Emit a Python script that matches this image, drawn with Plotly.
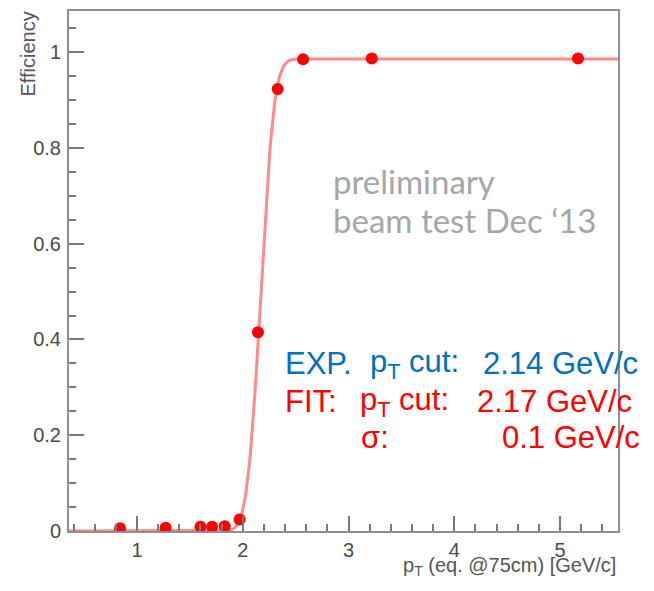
import math
import plotly.graph_objects as go

# ---- data ----
pt_values = [0.84, 1.27, 1.60, 1.71, 1.83, 1.97, 2.144, 2.33, 2.57, 3.22, 5.17]
efficiency = [0.006, 0.007, 0.009, 0.009, 0.010, 0.024, 0.415, 0.923, 0.985, 0.987, 0.987]

# fit parameters (error-function turn-on)
fit_mu = 2.17
fit_sigma = 0.1
fit_plateau = 0.986

x_range = [0.357, 5.548]
y_range = [0.0, 1.086]

n_fit = 600
fit_x = [x_range[0] + (x_range[1] - x_range[0]) * i / (n_fit - 1) for i in range(n_fit)]
fit_y = [fit_plateau * 0.5 * (1 + math.erf((x - fit_mu) / (math.sqrt(2) * fit_sigma))) for x in fit_x]

# page has an 8px body margin: the figure starts at (8, 8)
OFF = 8
W, H = 654 - OFF, 591 - OFF
plot_left, plot_right, plot_top, plot_bottom = 69, 618, 11, 531.5  # page pixels
L = plot_left - OFF
T = plot_top - OFF
R = W - (plot_right - OFF)
B = H - (plot_bottom - OFF)
pw, ph = plot_right - plot_left, plot_bottom - plot_top


def px(xp):
    return (xp - plot_left) / pw


def py(yp):
    return (plot_bottom - yp) / ph


fig = go.Figure()
fig.add_trace(go.Scatter(x=fit_x, y=fit_y, mode="lines",
                         line=dict(color="rgba(255,60,60,0.6)", width=3),
                         hoverinfo="skip", showlegend=False))
fig.add_trace(go.Scatter(x=pt_values, y=efficiency, mode="markers",
                         marker=dict(color="#ff0000", size=12),
                         showlegend=False))

axis_common = dict(showgrid=False, zeroline=False, showline=True, mirror=True,
                   linecolor="#8f8f8f", linewidth=2, ticks="inside",
                   tickcolor="#7a7a7a", tickwidth=2, ticklen=15,
                   tickfont=dict(family="Liberation Sans, Arial", size=20, color="#4a4a4a"))

fig.update_xaxes(range=x_range, tick0=0, dtick=1, **axis_common,
                 minor=dict(dtick=0.2, ticks="inside", ticklen=7, tickcolor="#7a7a7a", tickwidth=1.5))
fig.update_yaxes(range=y_range, tick0=0, dtick=0.2, **axis_common, ticklabelstandoff=2,
                 minor=dict(dtick=0.05, ticks="inside", ticklen=7, tickcolor="#7a7a7a", tickwidth=1.5))

ann = []
ann.append(dict(text="Efficiency", x=px(28), y=py(10), xref="paper", yref="paper",
                textangle=-90, xanchor="center", yanchor="top", showarrow=False,
                font=dict(family="Liberation Sans, Arial", size=20, color="#555555")))
ann.append(dict(text="p<sub>T</sub> (eq. @75cm) [GeV/c]", x=px(618), y=py(567), xref="paper", yref="paper",
                xanchor="right", yanchor="middle", showarrow=False,
                font=dict(family="Liberation Sans, Arial", size=20, color="#555555")))
gray = "#a6a6a6"
ann.append(dict(text="preliminary", x=px(331), y=py(181), xref="paper", yref="paper",
                xanchor="left", yanchor="middle", showarrow=False,
                font=dict(family="Lato", size=33, color=gray)))
ann.append(dict(text="beam test Dec ‘13", x=px(331), y=py(220), xref="paper", yref="paper",
                xanchor="left", yanchor="middle", showarrow=False,
                font=dict(family="Lato", size=33, color=gray)))
blue = "#0070c0"
red = "#ff0000"
tf = "Liberation Sans, Arial"
fs = 31
ann.append(dict(text="EXP.", x=px(283), y=py(364), xref="paper", yref="paper",
                xanchor="left", yanchor="middle", showarrow=False, font=dict(family=tf, size=fs, color=blue)))
ann.append(dict(text="p<sub>T</sub> cut:", x=px(368), y=py(364), xref="paper", yref="paper",
                xanchor="left", yanchor="middle", showarrow=False, font=dict(family=tf, size=fs, color=blue)))
ann.append(dict(text="2.14 GeV/c", x=px(640), y=py(364), xref="paper", yref="paper",
                xanchor="right", yanchor="middle", showarrow=False, font=dict(family=tf, size=fs, color=blue)))
ann.append(dict(text="FIT:", x=px(283), y=py(402), xref="paper", yref="paper",
                xanchor="left", yanchor="middle", showarrow=False, font=dict(family=tf, size=fs, color=red)))
ann.append(dict(text="p<sub>T</sub> cut:", x=px(358), y=py(402), xref="paper", yref="paper",
                xanchor="left", yanchor="middle", showarrow=False, font=dict(family=tf, size=fs, color=red)))
ann.append(dict(text="2.17 GeV/c", x=px(634), y=py(402), xref="paper", yref="paper",
                xanchor="right", yanchor="middle", showarrow=False, font=dict(family=tf, size=fs, color=red)))
ann.append(dict(text="σ:", x=px(359), y=py(438), xref="paper", yref="paper",
                xanchor="left", yanchor="middle", showarrow=False, font=dict(family=tf, size=fs, color=red)))
ann.append(dict(text="0.1 GeV/c", x=px(642), y=py(438), xref="paper", yref="paper",
                xanchor="right", yanchor="middle", showarrow=False, font=dict(family=tf, size=fs, color=red)))

fig.update_layout(width=W, height=H, margin=dict(l=L, r=R, t=T, b=B, autoexpand=False),
                  plot_bgcolor="white", paper_bgcolor="white", annotations=ann)

fig.write_html("out.html")
